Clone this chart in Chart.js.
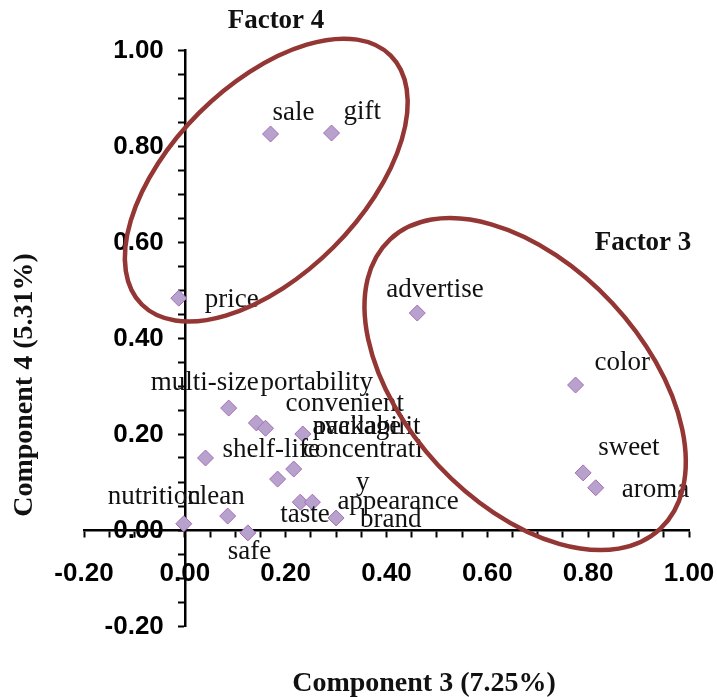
<!DOCTYPE html>
<html>
<head>
<meta charset="utf-8">
<script src="https://cdn.jsdelivr.net/npm/chart.js@4.4.1/dist/chart.umd.min.js"></script>
<style>
  html, body { margin: 0; padding: 0; background: #fff; }
  #wrap { width: 717px; height: 697px; }
</style>
</head>
<body>
<div id="wrap"><canvas id="pcaChart" width="717" height="697"></canvas></div>
<script>
// Component 3 / Component 4 loadings
const attributes = ['sale', 'gift', 'price', 'advertise', 'color', 'sweet', 'aroma',
    'multi-size', 'portability', 'convenient', 'package', 'shelf-life', 'concentrati\ny',
    'availabilit', 'taste', 'appearance', 'brand', 'clean', 'nutrition', 'safe'];
const comp3 = [0.170, 0.291, -0.012, 0.461, 0.775, 0.790, 0.815,
    0.087, 0.142, 0.160, 0.234, 0.041, 0.216,
    0.184, 0.229, 0.253, 0.300, 0.085, -0.002, 0.125];
const comp4 = [0.825, 0.827, 0.483, 0.452, 0.302, 0.119, 0.088,
    0.254, 0.223, 0.212, 0.200, 0.150, 0.127,
    0.106, 0.058, 0.058, 0.025, 0.029, 0.013, -0.006];
const axisTicks = [-0.20, 0.00, 0.20, 0.40, 0.60, 0.80, 1.00];

// where each label sits relative to its marker (px)
const labelOffsets = [[2, -20], [12, -20], [26, 3], [-31, -22], [19, -21], [15, -24], [26, 3],
    [-78, -24], [4, -39], [20, -23], [10, -6], [17, -7], [9, -18],
    [35, -51], [-20, 14], [25, 1], [24, 3], [-40, -18], [-76, -26], [-20, 20]];

// factor groupings drawn as ellipses (center in data units)
const factorGroups = [
    { name: 'Factor 4', cx: 0.1615, cy: 0.729, rx: 176, ry: 95, angle: -45, tx: 276, ty: 21 },
    { name: 'Factor 3', cx: 0.675, cy: 0.304, rx: 198, ry: 119, angle: 47, tx: 643, ty: 243 }
];

const points = comp3.map((x, i) => ({ x: x, y: comp4[i] }));

function isMajor(v) {
    return axisTicks.some(t => Math.abs(t - v) < 1e-6);
}
function fmt(v) {
    return (Math.abs(v) < 1e-9 ? 0 : v).toFixed(2);
}

const overlay = {
    id: 'overlay',
    afterDatasetsDraw(chart) {
        const ctx = chart.ctx;
        const xs = chart.scales.x, ys = chart.scales.y;
        ctx.save();

        // y tick labels (Chart.js ignores padding for value-positioned y axes)
        ctx.fillStyle = '#000';
        ctx.font = 'bold 26px "Liberation Sans", Arial';
        ctx.textAlign = 'right';
        ctx.textBaseline = 'middle';
        const axisX = xs.getPixelForValue(0);
        axisTicks.forEach(t => ctx.fillText(fmt(t), axisX - 21, ys.getPixelForValue(t) + 1));

        // point labels
        ctx.fillStyle = '#111';
        ctx.font = '27px "Liberation Serif"';
        ctx.textAlign = 'left';
        ctx.textBaseline = 'alphabetic';
        attributes.forEach((name, i) => {
            const px = xs.getPixelForValue(comp3[i]);
            const py = ys.getPixelForValue(comp4[i]);
            const lines = name.split('\n');
            const [dx, dy] = labelOffsets[i];
            ctx.fillText(lines[0], px + dx, py + dy + 6);
            if (lines.length > 1) {
                // wrapped label: second line centred under the first
                const w = ctx.measureText(lines[0]).width;
                ctx.textAlign = 'center';
                ctx.fillText(lines[1], px + dx + w / 2, py + dy + 39);
                ctx.textAlign = 'left';
            }
        });

        // ellipses
        ctx.strokeStyle = '#943634';
        ctx.lineWidth = 4.5;
        factorGroups.forEach(g => {
            ctx.beginPath();
            ctx.ellipse(xs.getPixelForValue(g.cx), ys.getPixelForValue(g.cy),
                g.rx, g.ry, g.angle * Math.PI / 180, 0, Math.PI * 2);
            ctx.stroke();
        });

        // titles
        ctx.fillStyle = '#111';
        ctx.font = 'bold 27px "Liberation Serif"';
        ctx.textAlign = 'center';
        ctx.textBaseline = 'middle';
        factorGroups.forEach(g => ctx.fillText(g.name, g.tx, g.ty));
        ctx.font = 'bold 28px "Liberation Serif"';
        ctx.fillText('Component 3 (7.25%)', 424, 684);
        ctx.translate(25, 385);
        ctx.rotate(-Math.PI / 2);
        ctx.fillText('Component 4 (5.31%)', 0, 0);
        ctx.restore();
    }
};

const tickFont = { family: '"Liberation Sans", Arial', size: 26, weight: 'bold' };

function axisOptions(pos, showLabels) {
    return {
        type: 'linear',
        min: -0.2,
        max: 1.0,
        position: pos,
        afterFit: (scale) => {
            scale.paddingLeft = 0; scale.paddingRight = 0;
            scale.paddingTop = 0; scale.paddingBottom = 0;
        },
        ticks: {
            display: showLabels,
            stepSize: 0.05,
            autoSkip: false,
            maxRotation: 0,
            padding: 22,
            color: '#000',
            font: tickFont,
            callback: (v) => isMajor(v) ? fmt(v) : ''
        },
        grid: {
            drawOnChartArea: false,
            drawTicks: true,
            tickLength: 6,
            tickColor: '#000',
            tickWidth: 2
        },
        border: { display: true, color: '#000', width: 2.5 }
    };
}

new Chart(document.getElementById('pcaChart'), {
    type: 'scatter',
    data: {
        datasets: [{
            data: points,
            pointStyle: 'rectRot',
            pointRadius: 8,
            pointHoverRadius: 8,
            backgroundColor: '#B7A2CE',
            borderColor: '#A66DB4',
            borderWidth: 1
        }]
    },
    options: {
        responsive: false,
        animation: false,
        layout: { padding: { left: 84, right: 28, top: 50, bottom: 71 } },
        plugins: {
            legend: { display: false },
            tooltip: { enabled: false }
        },
        scales: {
            x: axisOptions({ y: 0 }, true),
            y: axisOptions({ x: 0 }, false)
        }
    },
    plugins: [overlay]
});
</script>
</body>
</html>
